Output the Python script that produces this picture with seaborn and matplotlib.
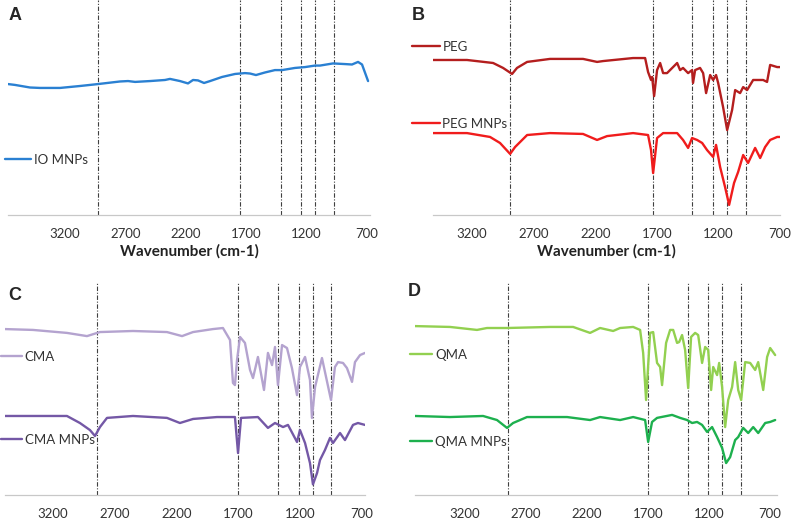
import matplotlib
matplotlib.use("Agg")
import matplotlib.pyplot as plt
from matplotlib.lines import Line2D
import seaborn as sns
import pandas as pd

# ---------------- data ----------------
# panel A : IO MNPs
io_wn = [3672, 3614, 3490, 3407, 3241, 3076, 2927, 2745, 2678, 2620, 2496, 2372, 2331, 2248,
         2182, 2140, 2099, 2049, 1999, 1900, 1792, 1710, 1668, 1619, 1544, 1462, 1403, 1296,
         1213, 1130, 1089, 981, 882, 824, 774, 741, 691]
io_t = [60.9, 60.5, 59.3, 59.1, 59.1, 60.0, 60.9, 62.1, 62.3, 61.9, 62.3, 62.8, 63.3, 62.3,
        61.2, 62.8, 62.6, 61.4, 62.3, 64.2, 65.6, 66.0, 65.8, 65.1, 66.3, 67.4, 67.4, 68.4,
        68.8, 69.5, 69.5, 70.5, 70.2, 70.0, 71.2, 70.0, 62.3]

# panel B : PEG / PEG MNPs
peg_wn = [3517, 3241, 3029, 2948, 2875, 2835, 2753, 2567, 2299, 2185, 2136, 1893, 1795, 1771,
          1747, 1738, 1722, 1698, 1673, 1649, 1617, 1535, 1511, 1487, 1446, 1414, 1406, 1389,
          1349, 1324, 1300, 1267, 1243, 1219, 1202, 1162, 1129, 1089, 1064, 1024, 999, 967,
          918, 837, 805, 780, 723, 699]
peg_t = [72.1, 72.1, 70.7, 68.4, 65.6, 68.4, 71.2, 72.6, 72.6, 71.2, 71.6, 73.0, 73.0, 66.5,
         62.8, 64.2, 55.3, 67.4, 70.7, 66.0, 66.0, 70.7, 67.4, 68.4, 66.0, 67.4, 61.4, 67.4,
         68.4, 66.0, 56.7, 65.1, 62.8, 65.1, 61.4, 50.2, 39.5, 48.8, 58.1, 56.7, 59.5, 58.1,
         62.8, 62.8, 61.9, 69.8, 68.8, 68.8]
pegm_wn = [3517, 3241, 3054, 2973, 2891, 2851, 2753, 2567, 2299, 2185, 2104, 1893, 1771, 1747,
           1730, 1698, 1649, 1535, 1487, 1446, 1414, 1373, 1332, 1292, 1243, 1219, 1186, 1146,
           1113, 1073, 1040, 999, 959, 902, 861, 821, 780, 723, 699]
pegm_t = [38.1, 38.1, 36.3, 33.5, 28.4, 31.6, 37.2, 38.1, 37.7, 34.9, 36.7, 38.1, 37.2, 30.2,
          19.5, 35.8, 38.1, 38.1, 34.9, 31.2, 35.8, 34.9, 33.5, 30.2, 27.0, 32.6, 22.3, 13.0,
          4.7, 14.9, 20.0, 27.9, 24.2, 31.2, 26.5, 31.6, 34.9, 36.3, 36.3]

# panel C : CMA / CMA MNPs
cma_wn = [3588, 3362, 3087, 2925, 2820, 2553, 2278, 2156, 2067, 1906, 1825, 1768, 1744, 1728,
          1711, 1687, 1647, 1606, 1582, 1542, 1493, 1461, 1428, 1404, 1380, 1347, 1307, 1267,
          1226, 1202, 1161, 1121, 1105, 1080, 1024, 991, 951, 919, 894, 854, 822, 781, 757,
          716, 676]
cma_t = [77.9, 77.5, 76.1, 74.6, 76.5, 77.0, 76.5, 74.6, 76.5, 77.9, 78.4, 72.8, 52.6, 51.6,
         63.4, 74.2, 71.4, 58.7, 54.9, 64.8, 49.3, 66.7, 61.0, 69.5, 51.6, 70.4, 69.0, 59.6,
         46.9, 60.1, 64.8, 54.0, 36.2, 50.7, 64.3, 55.4, 44.6, 60.1, 62.4, 62.0, 59.6, 53.1,
         62.4, 65.7, 66.7]
cmam_wn = [3588, 3087, 2982, 2901, 2860, 2820, 2763, 2553, 2278, 2173, 2067, 1873, 1728, 1703,
           1679, 1542, 1461, 1404, 1339, 1299, 1226, 1202, 1161, 1121, 1097, 1064, 1040, 1000,
           959, 935, 878, 838, 773, 733, 676]
cmam_t = [37.1, 37.1, 33.8, 30.5, 27.7, 31.9, 36.2, 37.1, 36.2, 33.8, 35.7, 36.6, 36.6, 19.7,
          36.2, 36.6, 31.5, 33.8, 31.9, 32.9, 24.9, 30.5, 24.4, 15.0, 5.0, 10.3, 16.4, 21.1,
          26.8, 24.4, 29.1, 25.8, 32.9, 33.8, 32.9]

# panel D : QMA / QMA MNPs
qma_wn = [3610, 3323, 3102, 3020, 2856, 2503, 2314, 2175, 2093, 1986, 1929, 1822, 1765, 1740,
          1716, 1683, 1658, 1626, 1601, 1585, 1552, 1519, 1494, 1462, 1445, 1421, 1396, 1371,
          1347, 1314, 1289, 1257, 1232, 1207, 1183, 1166, 1134, 1117, 1093, 1068, 1043, 1011,
          986, 961, 937, 904, 863, 822, 797, 756, 724, 699, 658]
qma_t = [79.3, 78.9, 77.5, 78.4, 78.4, 78.9, 78.9, 76.1, 78.4, 77.0, 78.4, 78.9, 77.5, 66.7,
         44.6, 76.1, 76.5, 62.0, 60.1, 51.6, 71.4, 77.5, 77.5, 71.4, 71.8, 75.1, 68.1, 50.2,
         74.2, 76.1, 75.1, 62.0, 69.5, 68.1, 49.3, 60.1, 56.3, 62.0, 50.7, 31.9, 44.6, 50.7,
         62.4, 49.3, 44.6, 62.4, 62.0, 58.7, 62.4, 49.3, 64.8, 69.0, 65.7]
qmam_wn = [3610, 3323, 3052, 2938, 2856, 2806, 2692, 2364, 2175, 2093, 1929, 1822, 1724, 1699,
           1667, 1626, 1503, 1437, 1380, 1339, 1298, 1257, 1216, 1175, 1134, 1093, 1060, 1027,
           986, 961, 920, 879, 838, 797, 740, 699, 658]
qmam_t = [37.1, 36.6, 37.1, 35.2, 31.5, 33.8, 36.6, 36.6, 35.2, 36.6, 35.2, 36.6, 35.2, 24.9,
          34.3, 36.2, 37.6, 36.2, 35.2, 33.8, 34.3, 32.9, 29.6, 31.9, 27.2, 22.1, 15.0, 17.8,
          25.8, 27.2, 31.5, 29.1, 31.9, 29.1, 33.8, 34.3, 35.2]

# marked bands (dash-dot lines), per panel
bands_A = [2927, 1751, 1412, 1246, 1130, 973]
bands_B = [2891, 1730, 1414, 1243, 1129, 975]
bands_C = [2844, 1703, 1380, 1210, 1097, 951]
bands_D = [2847, 1699, 1371, 1207, 1093, 937]

ticks = [3200, 2700, 2200, 1700, 1200, 700]

# ---------------- style ----------------
sns.set_style("white")
plt.rcParams['font.family'] = ['Lato', 'DejaVu Sans']

W, H = 800, 518
fig = plt.figure(figsize=(W / 100, H / 100), dpi=100)


def px_axes(x0, y0, x1, y1):
    return fig.add_axes([x0 / W, 1 - y1 / H, (x1 - x0) / W, (y1 - y0) / H])


def draw(ax, wn, t, color):
    df = pd.DataFrame({'wn': wn, 't': t})
    sns.lineplot(data=df, x='wn', y='t', ax=ax, color=color, lw=1.7,
                 estimator=None, zorder=3)


def setup(ax, xlim, bands, xlabel=''):
    ax.set_xlim(*xlim)
    ax.set_ylim(0, 100)
    for b in bands:
        ax.axvline(b, color='0.25', lw=0.8, ls=(0, (4, 1.5, 1, 1.5)), zorder=1)
    sns.despine(ax=ax, left=True, top=True, right=True)
    ax.spines['bottom'].set_color('#c8c8c8')
    ax.spines['bottom'].set_linewidth(0.9)
    ax.set_yticks([])
    ax.set_xticks(ticks)
    ax.set_xticklabels([str(t) for t in ticks])
    ax.tick_params(axis='x', direction='in', length=4, color='#c8c8c8',
                   labelsize=9.5, pad=9, labelcolor='#333333')
    ax.set_ylabel('')
    ax.set_xlabel(xlabel, fontsize=11, fontweight='bold', labelpad=3, color='#222222')


def tag(x, y, label, color, hl):
    h = Line2D([], [], color=color, lw=1.7)
    leg = fig.legend([h], [label], loc='center left', bbox_to_anchor=(x / W, 1 - y / H),
                     frameon=False, borderpad=0, borderaxespad=0, handlelength=hl,
                     handletextpad=0.2, fontsize=9.5)
    for txt in leg.get_texts():
        txt.set_color('#333333')


c_io = '#2a80d2'
c_peg, c_pegm = '#b41e1e', '#f01c1c'
c_cma, c_cmam = '#b4a3cf', '#7458a6'
c_qma, c_qmam = '#92d050', '#1db04e'

# A
axA = px_axes(8, 0, 370, 215)
draw(axA, io_wn, io_t, c_io)
setup(axA, (3672, 675), bands_A, 'Wavenumber (cm-1)')

# B
axB = px_axes(433, 0, 780, 215)
draw(axB, peg_wn, peg_t, c_peg)
draw(axB, pegm_wn, pegm_t, c_pegm)
setup(axB, (3517, 700), bands_B, 'Wavenumber (cm-1)')

# C
axC = px_axes(5, 282, 365, 495)
draw(axC, cma_wn, cma_t, c_cma)
draw(axC, cmam_wn, cmam_t, c_cmam)
setup(axC, (3588, 676), bands_C)

# D
axD = px_axes(415, 282, 777, 495)
draw(axD, qma_wn, qma_t, c_qma)
draw(axD, qmam_wn, qmam_t, c_qmam)
setup(axD, (3610, 643), bands_D)

# legends placed beside the curves
tag(5, 160, 'IO MNPs', c_io, 2.0)
tag(412, 47, 'PEG', c_peg, 2.1)
tag(412, 124, 'PEG MNPs', c_pegm, 2.1)
tag(1, 357, 'CMA', c_cma, 1.6)
tag(1, 440, 'CMA MNPs', c_cmam, 1.6)
tag(410, 355, 'QMA', c_qma, 1.7)
tag(410, 442, 'QMA MNPs', c_qmam, 1.7)

# panel letters
for lx, ly, s in [(9, 16, 'A'), (412, 16, 'B'), (8, 296, 'C'), (408, 291, 'D')]:
    fig.text(lx / W, 1 - ly / H, s, fontsize=13, fontweight='bold',
             family=['Liberation Sans', 'DejaVu Sans'], va='center', ha='left')

fig.savefig('out.png', dpi=100)
